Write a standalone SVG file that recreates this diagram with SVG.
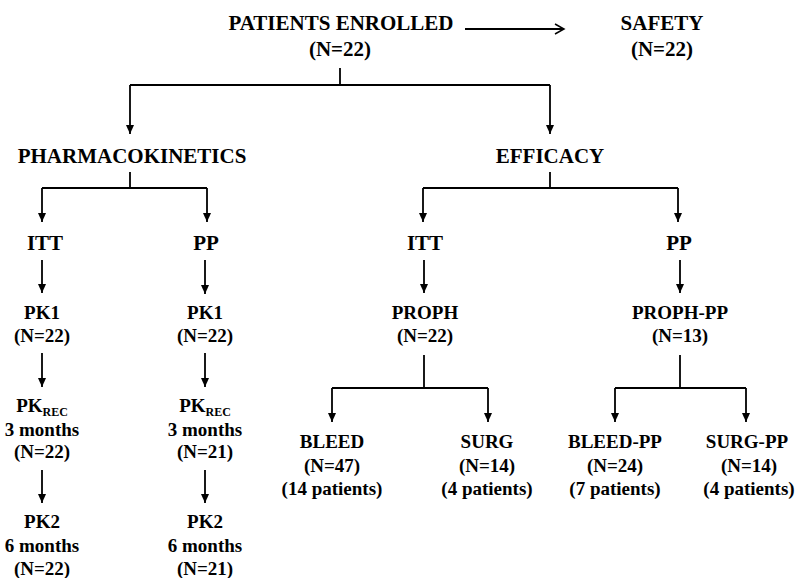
<svg xmlns="http://www.w3.org/2000/svg" width="798" height="578" viewBox="0 0 798 578">
<defs>
<marker id="ah" markerWidth="9" markerHeight="8" refX="9" refY="4" orient="auto" markerUnits="userSpaceOnUse" viewBox="0 0 9 8">
<path d="M0,0 L9,4 L0,8 Z" fill="#000"/>
</marker>
<style>
text{font-family:"Liberation Serif","Times New Roman",serif;font-weight:bold;fill:#000;text-anchor:middle}
.l{font-size:21px}
.s{font-size:19px}
.sub{font-size:12px}
.c line,.c polyline{stroke:#000;stroke-width:1.8;fill:none}
.a{marker-end:url(#ah)}
</style>
</defs>
<rect width="798" height="578" fill="#fff"/>
<g class="c" id="connectors">
<line x1="465" y1="29" x2="563" y2="29"/>
<polyline points="555,24 564,29 555,34" style="stroke-width:1.5"/>
<line x1="340" y1="68" x2="340" y2="85"/>
<line x1="130" y1="85" x2="550" y2="85"/>
<line class="a" x1="130" y1="85" x2="130" y2="134"/>
<line class="a" x1="550" y1="85" x2="550" y2="134"/>
<line x1="130" y1="172" x2="130" y2="188"/>
<line x1="42" y1="188" x2="207" y2="188"/>
<line class="a" x1="42" y1="188" x2="42" y2="222"/>
<line class="a" x1="207" y1="188" x2="207" y2="222"/>
<line x1="550" y1="172" x2="550" y2="188"/>
<line x1="423" y1="188" x2="678" y2="188"/>
<line class="a" x1="423" y1="188" x2="423" y2="222"/>
<line class="a" x1="678" y1="188" x2="678" y2="222"/>
<line class="a" x1="42" y1="260" x2="42" y2="293"/>
<line class="a" x1="205" y1="260" x2="205" y2="294"/>
<line class="a" x1="42" y1="353" x2="42" y2="387"/>
<line class="a" x1="205" y1="353" x2="205" y2="387"/>
<line class="a" x1="42" y1="470" x2="42" y2="503"/>
<line class="a" x1="205" y1="470" x2="205" y2="503"/>
<line class="a" x1="424" y1="260" x2="424" y2="293"/>
<line class="a" x1="680" y1="260" x2="680" y2="293"/>
<line x1="424" y1="355" x2="424" y2="388"/>
<line x1="332" y1="388" x2="488" y2="388"/>
<line class="a" x1="332" y1="388" x2="332" y2="422"/>
<line class="a" x1="488" y1="388" x2="488" y2="422"/>
<line x1="680" y1="355" x2="680" y2="388"/>
<line x1="615" y1="388" x2="746" y2="388"/>
<line class="a" x1="615" y1="388" x2="615" y2="422"/>
<line class="a" x1="746" y1="388" x2="746" y2="422"/>
</g>
<g id="enrolled"><text class="l" x="341" y="30">PATIENTS ENROLLED</text><text class="l" x="340" y="56">(N=22)</text></g>
<g id="safety"><text class="l" x="662" y="30">SAFETY</text><text class="l" x="662" y="56">(N=22)</text></g>
<g id="pharma"><text class="l" x="132" y="163">PHARMACOKINETICS</text></g>
<g id="efficacy"><text class="l" x="550" y="163">EFFICACY</text></g>
<g id="pk-itt"><text class="l" x="45" y="250">ITT</text></g>
<g id="pk-pp"><text class="l" x="206" y="250">PP</text></g>
<g id="pk1-itt"><text class="s" x="42" y="319">PK1</text><text class="s" x="42" y="342">(N=22)</text></g>
<g id="pk1-pp"><text class="s" x="205" y="319">PK1</text><text class="s" x="205" y="342">(N=22)</text></g>
<g id="pkrec-itt"><text class="s" x="42" y="412">PK<tspan class="sub" dy="4">REC</tspan></text><text class="s" x="42" y="436">3 months</text><text class="s" x="42" y="458">(N=22)</text></g>
<g id="pkrec-pp"><text class="s" x="205" y="412">PK<tspan class="sub" dy="4">REC</tspan></text><text class="s" x="205" y="436">3 months</text><text class="s" x="205" y="458">(N=21)</text></g>
<g id="pk2-itt"><text class="s" x="42" y="528">PK2</text><text class="s" x="42" y="552">6 months</text><text class="s" x="42" y="575">(N=22)</text></g>
<g id="pk2-pp"><text class="s" x="205" y="528">PK2</text><text class="s" x="205" y="552">6 months</text><text class="s" x="205" y="575">(N=21)</text></g>
<g id="eff-itt"><text class="l" x="425" y="250">ITT</text></g>
<g id="eff-pp"><text class="l" x="679" y="250">PP</text></g>
<g id="proph"><text class="s" x="425" y="319">PROPH</text><text class="s" x="425" y="342">(N=22)</text></g>
<g id="proph-pp"><text class="s" x="680" y="319">PROPH-PP</text><text class="s" x="680" y="342">(N=13)</text></g>
<g id="bleed"><text class="s" x="332" y="448">BLEED</text><text class="s" x="332" y="472">(N=47)</text><text class="s" x="332" y="495">(14 patients)</text></g>
<g id="surg"><text class="s" x="487" y="448">SURG</text><text class="s" x="487" y="472">(N=14)</text><text class="s" x="487" y="495">(4 patients)</text></g>
<g id="bleed-pp"><text class="s" x="615" y="448">BLEED-PP</text><text class="s" x="615" y="472">(N=24)</text><text class="s" x="615" y="495">(7 patients)</text></g>
<g id="surg-pp"><text class="s" x="747" y="448">SURG-PP</text><text class="s" x="749" y="472">(N=14)</text><text class="s" x="749" y="495">(4 patients)</text></g>
</svg>
